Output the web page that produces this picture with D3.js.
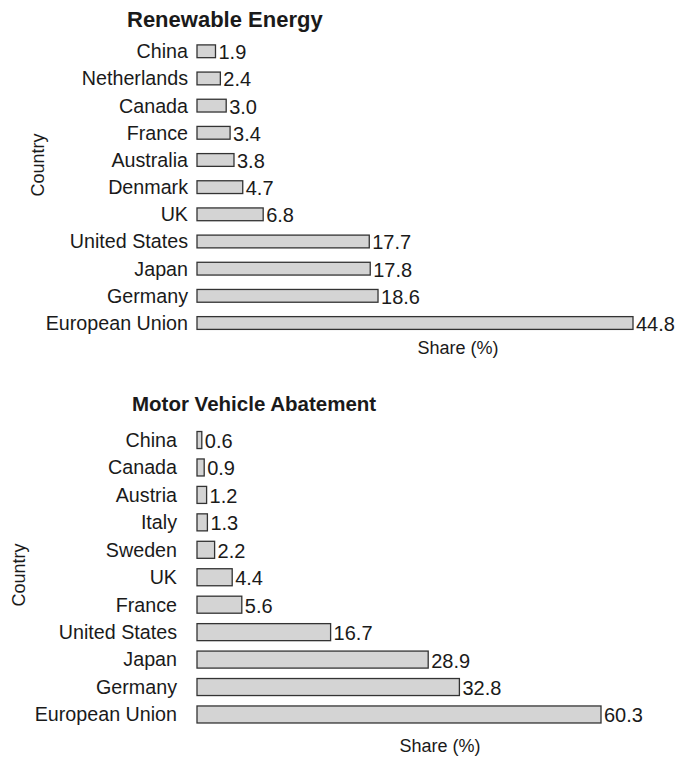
<!DOCTYPE html>
<html>
<head>
<meta charset="utf-8">
<script src="https://cdn.jsdelivr.net/npm/d3@7"></script>
<style>
  body { margin: 0; background: #fff; }
  text { font-family: "Liberation Sans", Arial, sans-serif; fill: #1a1a1a; }
</style>
</head>
<body>
<div id="chart"></div>
<script>
// top panel
const renewableCountries = ["China", "Netherlands", "Canada", "France", "Australia", "Denmark", "UK", "United States", "Japan", "Germany", "European Union"];
const renewableShare = [1.9, 2.4, 3.0, 3.4, 3.8, 4.7, 6.8, 17.7, 17.8, 18.6, 44.8];

// bottom panel
const vehicleCountries = ["China", "Canada", "Austria", "Italy", "Sweden", "UK", "France", "United States", "Japan", "Germany", "European Union"];
const vehicleShare = [0.6, 0.9, 1.2, 1.3, 2.2, 4.4, 5.6, 16.7, 28.9, 32.8, 60.3];

const width = 680, height = 757;
const fmt = d3.format(".1f");

const svg = d3.select("#chart").append("svg")
    .attr("width", width)
    .attr("height", height);

function drawPanel(opts) {
    const g = svg.append("g");

    // bottom panel's longest bar is cut short in the source, so clamp
    const x = d3.scaleLinear()
        .domain(opts.xDomain)
        .range([opts.left, opts.right])
        .clamp(true);

    const y = d3.scaleBand()
        .domain(opts.countries)
        .range(opts.yRange)
        .paddingInner(opts.pad)
        .paddingOuter(opts.pad / 2);

    const rows = opts.countries.map((c, i) => ({ c: c, v: opts.values[i] }));

    g.selectAll("rect").data(rows).join("rect")
        .attr("x", x(0))
        .attr("y", d => y(d.c))
        .attr("width", d => x(d.v) - x(0))
        .attr("height", y.bandwidth())
        .attr("fill", "#d4d4d4")
        .attr("stroke", "#333")
        .attr("stroke-width", 1.3);

    // country names
    g.selectAll("text.cat").data(rows).join("text")
        .attr("class", "cat")
        .attr("x", opts.labelX)
        .attr("y", d => y(d.c) + y.bandwidth() / 2)
        .attr("dy", "0.35em")
        .attr("text-anchor", "end")
        .style("font-size", "19.7px")
        .text(d => d.c);

    // values
    g.selectAll("text.val").data(rows).join("text")
        .attr("class", "val")
        .attr("x", d => x(d.v) + 3)
        .attr("y", d => y(d.c) + y.bandwidth() / 2)
        .attr("dy", "0.4em")
        .style("font-size", "20px")
        .text(d => fmt(d.v));

    g.append("text")
        .attr("x", opts.titleX)
        .attr("y", opts.titleY)
        .style("font-size", opts.titleSize)
        .style("font-weight", "bold")
        .text(opts.title);

    g.append("text")
        .attr("x", opts.xTitleX)
        .attr("y", opts.xTitleY)
        .attr("text-anchor", "middle")
        .style("font-size", "18px")
        .text("Share (%)");

    g.append("text")
        .attr("transform", `translate(${opts.yTitleX},${opts.yTitleY}) rotate(-90)`)
        .attr("text-anchor", "middle")
        .style("font-size", "18px")
        .text("Country");
}

drawPanel({
    countries: renewableCountries,
    values: renewableShare,
    xDomain: [0, 44.8],
    left: 197, right: 633,
    yRange: [37.7, 336.6],
    pad: 0.53,
    labelX: 188,
    title: "Renewable Energy",
    titleSize: "22px",
    titleX: 127, titleY: 27,
    xTitleX: 458, xTitleY: 354,
    yTitleX: 44, yTitleY: 165
});

drawPanel({
    countries: vehicleCountries,
    values: vehicleShare,
    xDomain: [0, 50.5],
    left: 197, right: 601,
    yRange: [426.3, 728.2],
    pad: 0.38,
    labelX: 177,
    title: "Motor Vehicle Abatement",
    titleSize: "20.5px",
    titleX: 132, titleY: 411,
    xTitleX: 440, xTitleY: 752,
    yTitleX: 25, yTitleY: 575
});
</script>
</body>
</html>
